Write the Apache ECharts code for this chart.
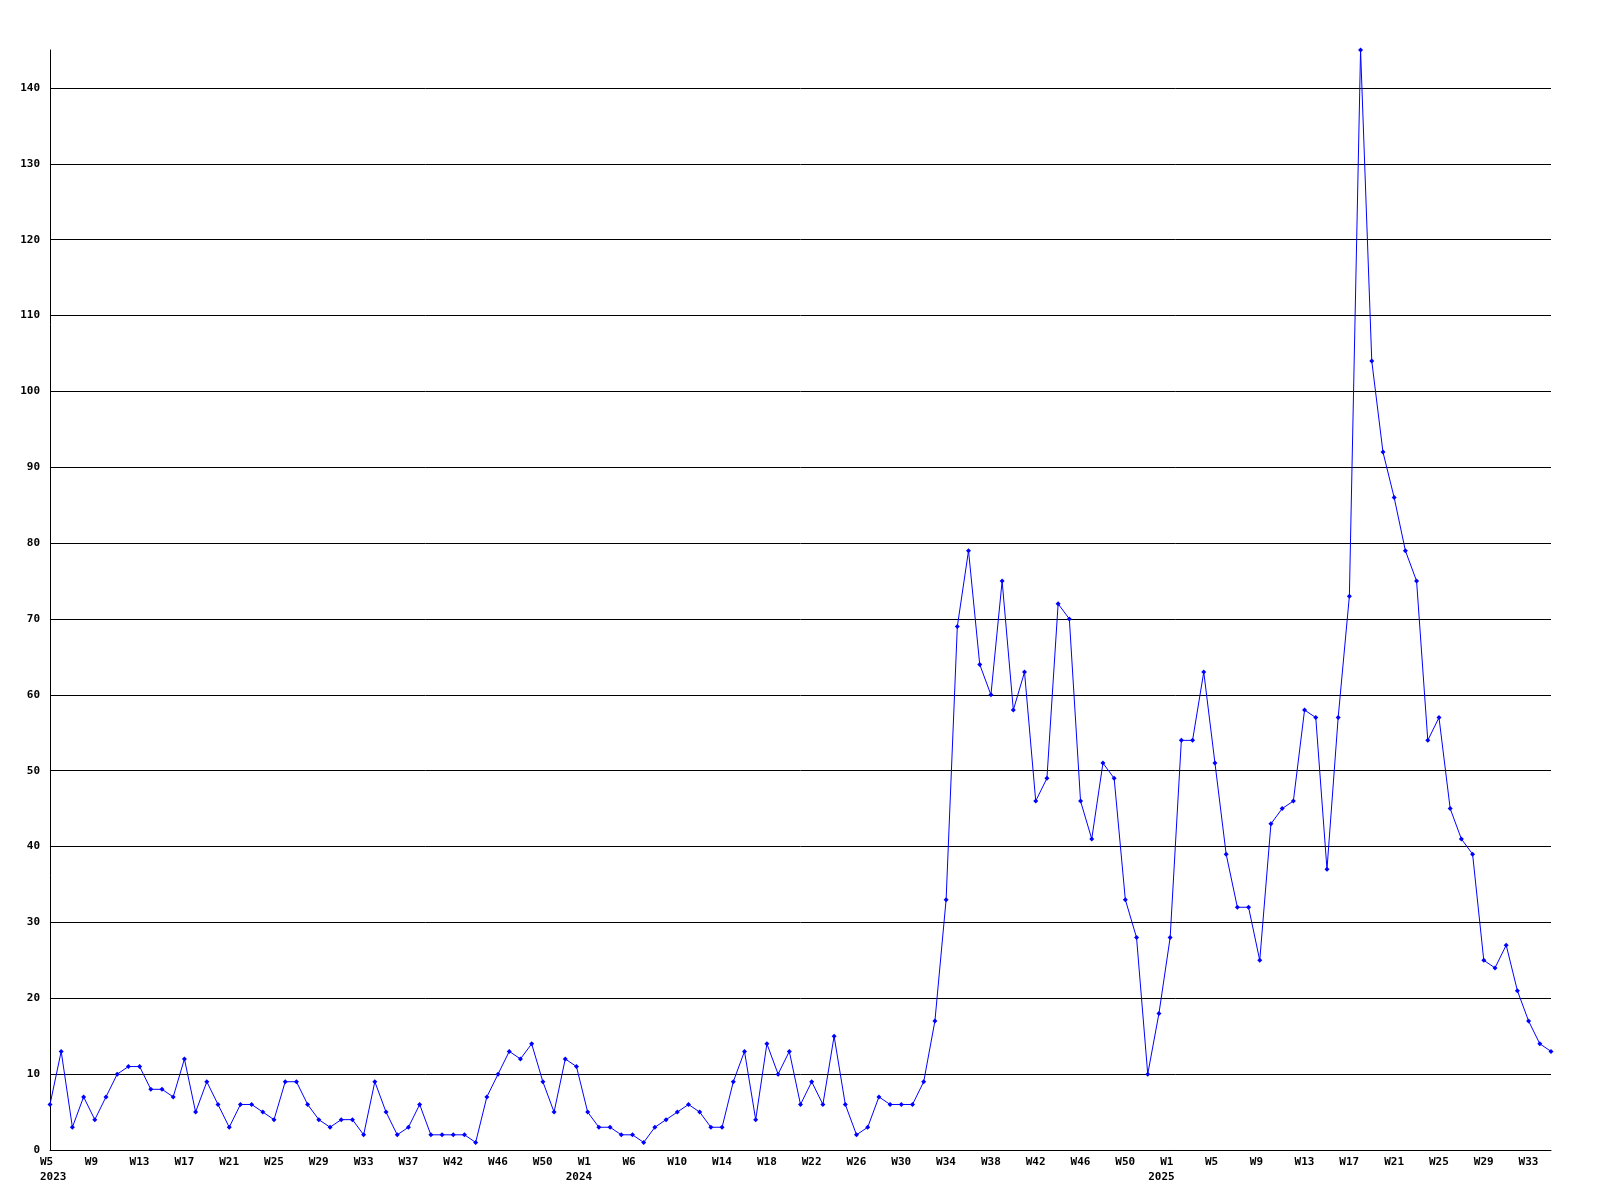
<!DOCTYPE html>
<html>
<head>
<meta charset="utf-8">
<script src="https://cdn.jsdelivr.net/npm/echarts@6/dist/echarts.min.js"></script>
<style>
  html, body { margin: 0; padding: 0; background: #fff; }
  #chart { width: 1600px; height: 1200px; }
</style>
</head>
<body>
<div id="chart"></div>
<script>
// Week categories (year, week label)
const years = [
  2023,2023,2023,2023,2023,2023,2023,2023,2023,2023,2023,2023,2023,2023,2023,2023,
  2023,2023,2023,2023,2023,2023,2023,2023,2023,2023,2023,2023,2023,2023,2023,2023,
  2023,2023,2023,2023,2023,2023,2023,2023,2023,2023,2023,2023,2023,2023,2023,2023,
  2024,2024,2024,2024,2024,2024,2024,2024,2024,2024,2024,2024,2024,2024,2024,2024,
  2024,2024,2024,2024,2024,2024,2024,2024,2024,2024,2024,2024,2024,2024,2024,2024,
  2024,2024,2024,2024,2024,2024,2024,2024,2024,2024,2024,2024,2024,2024,2024,2024,
  2024,2024,2024,2024,
  2025,2025,2025,2025,2025,2025,2025,2025,2025,2025,2025,2025,2025,2025,2025,2025,
  2025,2025,2025,2025,2025,2025,2025,2025,2025,2025,2025,2025,2025,2025,2025,2025,
  2025,2025,2025
];
const weeks = [
  "W5","W6","W7","W8","W9","W10","W11","W12","W13","W14","W15","W16","W17","W18","W19","W20",
  "W21","W22","W23","W24","W25","W26","W27","W28","W29","W30","W31","W32","W33","W34","W35","W36",
  "W37","W38","W39","W40","W42","W43","W44","W45","W46","W47","W48","W49","W50","W51","W52","W53",
  "W1","W2","W3","W4","W6","W7","W8","W9","W10","W11","W12","W13","W14","W15","W16","W17",
  "W18","W19","W20","W21","W22","W23","W24","W25","W26","W27","W28","W29","W30","W31","W32","W33",
  "W34","W35","W36","W37","W38","W39","W40","W41","W42","W43","W44","W45","W46","W47","W48","W49",
  "W50","W51","W52","W53",
  "W1","W2","W3","W4","W5","W6","W7","W8","W9","W10","W11","W12","W13","W14","W15","W16",
  "W17","W18","W19","W20","W21","W22","W23","W24","W25","W26","W27","W28","W29","W30","W31","W32",
  "W33","W34","W35"
];
const values = [
  6,13,3,7,4,7,10,11,11,8,
  8,7,12,5,9,6,3,6,6,5,
  4,9,9,6,4,3,4,4,2,9,
  5,2,3,6,2,2,2,2,1,7,
  10,13,12,14,9,5,12,11,5,3,
  3,2,2,1,3,4,5,6,5,3,
  3,9,13,4,14,10,13,6,9,6,
  15,6,2,3,7,6,6,6,9,17,
  33,69,79,64,60,75,58,63,46,49,
  72,70,46,41,51,49,33,28,10,18,
  28,54,54,63,51,39,32,32,25,43,
  45,46,58,57,37,57,73,145,104,92,
  86,79,75,54,57,45,41,39,25,24,
  27,21,17,14,13
];

const categories = weeks.map((w, i) => years[i] + "-" + w);
const LABEL_STEP = 4;

const font = {
  fontFamily: "DejaVu Sans Mono",
  fontWeight: "bold",
  fontSize: 11,
  color: "#000"
};

function pad3(s) { while (s.length < 3) s += ' '; return s; }

const chart = echarts.init(document.getElementById('chart'), null, { renderer: 'canvas' });
chart.setOption({
  animation: false,
  backgroundColor: '#ffffff',
  grid: { left: 50, right: 49, top: 50, bottom: 50, containLabel: false },
  xAxis: {
    type: 'category',
    data: categories,
    boundaryGap: false,
    axisLine: { show: true, lineStyle: { color: '#000', width: 1 } },
    axisTick: { show: false },
    splitLine: { show: false },
    axisLabel: {
      interval: LABEL_STEP - 1,
      margin: 5,
      align: 'center',
      formatter: function (value, index) {
        const w = weeks[index];
        if (index === 0) {
          return '{w|' + w + '}\n{y|' + years[index] + '}';
        }
        const prev = index - LABEL_STEP;
        if (prev >= 0 && years[prev] !== years[index]) {
          return '{wc|' + pad3(w) + '}\n{yw|' + years[index] + '}';
        }
        return '{w|' + w + '}';
      },
      rich: {
        w: Object.assign({ width: 20, align: 'left', lineHeight: 15 }, font),
        y: Object.assign({ width: 20, align: 'left', lineHeight: 15 }, font),
        wc: Object.assign({ width: 44, align: 'center', lineHeight: 15 }, font),
        yw: Object.assign({ width: 44, align: 'left', lineHeight: 15 }, font)
      }
    }
  },
  yAxis: {
    type: 'value',
    min: 0,
    max: 145,
    interval: 10,
    axisLine: { show: true, lineStyle: { color: '#000', width: 1 } },
    axisTick: { show: false },
    splitLine: { show: true, showMaxLine: false, lineStyle: { color: '#000', width: 1 } },
    axisLabel: Object.assign({ margin: 10, showMaxLabel: false }, font)
  },
  series: [{
    type: 'line',
    data: values,
    symbol: 'diamond',
    symbolSize: 5,
    showSymbol: true,
    showAllSymbol: true,
    lineStyle: { color: '#0000ff', width: 1 },
    itemStyle: { color: '#0000ff' },
    emphasis: { disabled: true }
  }]
});
</script>
</body>
</html>
